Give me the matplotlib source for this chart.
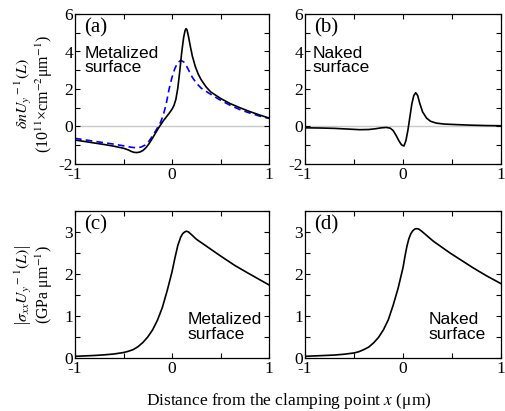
import matplotlib
matplotlib.use("Agg")
import matplotlib.pyplot as plt
from matplotlib.ticker import MultipleLocator, FixedLocator

plt.rcParams['font.family'] = ['Liberation Serif', 'DejaVu Serif']
plt.rcParams['mathtext.fontset'] = 'stix'
plt.rcParams['axes.unicode_minus'] = False

# ---- data ----
xa_metal = [-1.0, -0.9, -0.8, -0.7, -0.6, -0.5, -0.45, -0.42, -0.39, -0.36, -0.33, -0.3,
            -0.27, -0.24, -0.21, -0.18, -0.15, -0.12, -0.09, -0.06, -0.03, 0.0, 0.02, 0.04,
            0.06, 0.08, 0.1, 0.12, 0.135, 0.145, 0.155, 0.17, 0.19, 0.21, 0.24, 0.27, 0.3,
            0.35, 0.4, 0.5, 0.6, 0.7, 0.8, 0.9, 1.0]
ya_metal = [-0.72, -0.80, -0.88, -0.96, -1.05, -1.16, -1.25, -1.33, -1.38, -1.39, -1.36, -1.28,
            -1.14, -0.94, -0.70, -0.44, -0.18, 0.07, 0.30, 0.50, 0.70, 0.92, 1.12, 1.45,
            2.05, 2.95, 3.95, 4.75, 5.12, 5.22, 5.15, 4.80, 4.25, 3.75, 3.20, 2.80, 2.50,
            2.12, 1.84, 1.50, 1.22, 1.00, 0.80, 0.62, 0.45]

xa_dash = [-1.0, -0.8, -0.6, -0.5, -0.45, -0.4, -0.36, -0.32, -0.28, -0.24, -0.2, -0.16,
           -0.12, -0.09, -0.06, -0.03, 0.0, 0.03, 0.06, 0.09, 0.12, 0.15, 0.18, 0.21,
           0.25, 0.3, 0.38, 0.48, 0.6, 0.7, 0.8, 0.9, 1.0]
ya_dash = [-0.63, -0.79, -0.94, -1.03, -1.08, -1.12, -1.13, -1.10, -1.00, -0.80, -0.50, -0.16,
           0.20, 0.60, 1.20, 2.00, 2.62, 3.10, 3.42, 3.52, 3.45, 3.22, 2.92, 2.62,
           2.32, 2.05, 1.78, 1.46, 1.13, 0.90, 0.72, 0.56, 0.43]

xb = [-1.0, -0.85, -0.7, -0.55, -0.44, -0.35, -0.28, -0.22, -0.17, -0.13, -0.1, -0.07,
      -0.04, -0.015, 0.01, 0.03, 0.05, 0.07, 0.09, 0.11, 0.13, 0.15, 0.17, 0.2, 0.24,
      0.28, 0.34, 0.42, 0.55, 0.7, 0.85, 1.0]
yb = [-0.07, -0.08, -0.10, -0.14, -0.17, -0.16, -0.12, -0.07, -0.05, -0.09, -0.22, -0.48,
      -0.78, -0.98, -1.04, -0.75, -0.20, 0.50, 1.20, 1.65, 1.80, 1.65, 1.25, 0.78, 0.45,
      0.28, 0.18, 0.13, 0.10, 0.07, 0.05, 0.04]

xc = [-1.0, -0.9, -0.8, -0.7, -0.6, -0.5, -0.45, -0.4, -0.35, -0.3, -0.25, -0.2, -0.15,
      -0.1, -0.05, 0.0, 0.03, 0.06, 0.09, 0.11, 0.13, 0.15, 0.17, 0.2, 0.25, 0.35, 0.5,
      0.65, 0.8, 0.9, 1.0]
yc = [0.04, 0.05, 0.06, 0.075, 0.095, 0.13, 0.16, 0.20, 0.27, 0.37, 0.50, 0.67, 0.90,
      1.20, 1.60, 2.05, 2.38, 2.68, 2.88, 2.96, 3.00, 3.02, 3.00, 2.94, 2.83, 2.67, 2.43,
      2.20, 2.00, 1.87, 1.74]

xd = [-1.0, -0.9, -0.8, -0.7, -0.6, -0.5, -0.45, -0.4, -0.35, -0.3, -0.25, -0.2, -0.15,
      -0.1, -0.05, 0.0, 0.02, 0.04, 0.06, 0.08, 0.1, 0.12, 0.14, 0.16, 0.19, 0.23, 0.31,
      0.48, 0.72, 0.85, 1.0]
yd = [0.04, 0.05, 0.06, 0.07, 0.09, 0.12, 0.15, 0.20, 0.26, 0.36, 0.49, 0.67, 0.91,
      1.26, 1.66, 2.15, 2.42, 2.66, 2.84, 2.96, 3.03, 3.07, 3.08, 3.07, 3.02, 2.94, 2.78,
      2.50, 2.14, 1.96, 1.77]

panel_labels = ['(a)', '(b)', '(c)', '(d)']
surface_labels = ['Metalized\nsurface', 'Naked\nsurface', 'Metalized\nsurface', 'Naked\nsurface']
x_ticks = [-1, 0, 1]
top_yticks = [-2, 0, 2, 4, 6]
bot_yticks = [0, 1, 2, 3]

# ---- figure ----
fig = plt.figure(figsize=(5.05, 4.11), dpi=100)
W, H = 505.0, 411.0

def add_ax(l, r, t, b):
    return fig.add_axes([l / W, 1 - b / H, (r - l) / W, (b - t) / H])

ax_a = add_ax(75, 269, 14, 164)
ax_b = add_ax(305, 501, 14, 164)
ax_c = add_ax(75, 269, 211, 358)
ax_d = add_ax(305, 501, 211, 358)
axes = [ax_a, ax_b, ax_c, ax_d]

lw = 1.2
for ax in (ax_a, ax_b):
    ax.axhline(0, color='#c8c8c8', lw=1.0, zorder=1)

ax_a.plot(xa_metal, ya_metal, color='black', lw=lw, zorder=3)
ax_a.plot(xa_dash, ya_dash, color='#0000ff', lw=lw, dashes=(4, 2.5), zorder=2)
ax_b.plot(xb, yb, color='black', lw=lw, zorder=3)
ax_c.plot(xc, yc, color='black', lw=lw)
ax_d.plot(xd, yd, color='black', lw=lw)

for i, ax in enumerate(axes):
    ax.set_xlim(-1, 1)
    ax.xaxis.set_major_locator(FixedLocator(x_ticks))
    ax.xaxis.set_minor_locator(MultipleLocator(0.5))
    if i < 2:
        ax.set_ylim(-2, 6)
        ax.yaxis.set_major_locator(FixedLocator(top_yticks))
        ax.yaxis.set_minor_locator(MultipleLocator(1))
    else:
        ax.set_ylim(0, 3.5)
        ax.yaxis.set_major_locator(FixedLocator(bot_yticks))
        ax.yaxis.set_minor_locator(MultipleLocator(0.5))
    ax.tick_params(which='both', direction='in', top=True, right=True,
                   length=3.5, width=0.8, labelsize=12.5)
    ax.tick_params(axis='x', pad=2)
    ax.tick_params(axis='y', pad=1.5)
    for s in ax.spines.values():
        s.set_linewidth(0.9)
    ax.text(0.045, 0.97, panel_labels[i], transform=ax.transAxes, ha='left', va='top',
            fontsize=15)

# surface labels (sans)
sans = ['Liberation Sans', 'DejaVu Sans']
fs_s = 12.5
ax_a.text(0.05, 0.79, surface_labels[0], transform=ax_a.transAxes, ha='left', va='top',
          fontsize=fs_s, family=sans, linespacing=1.0)
ax_b.text(0.04, 0.79, surface_labels[1], transform=ax_b.transAxes, ha='left', va='top',
          fontsize=fs_s, family=sans, linespacing=1.0)
ax_c.text(0.58, 0.315, surface_labels[2], transform=ax_c.transAxes, ha='left', va='top',
          fontsize=fs_s, family=sans, linespacing=1.0)
ax_d.text(0.63, 0.315, surface_labels[3], transform=ax_d.transAxes, ha='left', va='top',
          fontsize=fs_s, family=sans, linespacing=1.0)

ax_a.set_ylabel('$\\delta nU_y$' + '$^{\\rm -1}$' + '$(L)$\n' +
                '(10$^{11}$×cm$^{-2}$μm$^{-1}$)', fontsize=11.5, linespacing=0.95)
ax_a.yaxis.set_label_coords(-0.105, 0.47)
ax_c.set_ylabel('|$\\sigma_{xx}U_y$' + '$^{\\rm -1}$' + '$(L)$|\n' +
                '(GPa μm$^{-1}$)', fontsize=11.5, linespacing=0.95)
ax_c.yaxis.set_label_coords(-0.105, 0.5)

fig.text(289 / W, 1 - 405 / H, 'Distance from the clamping point $x$ (μm)',
         ha='center', va='baseline', fontsize=12.5)

fig.savefig('out.png', dpi=100)
